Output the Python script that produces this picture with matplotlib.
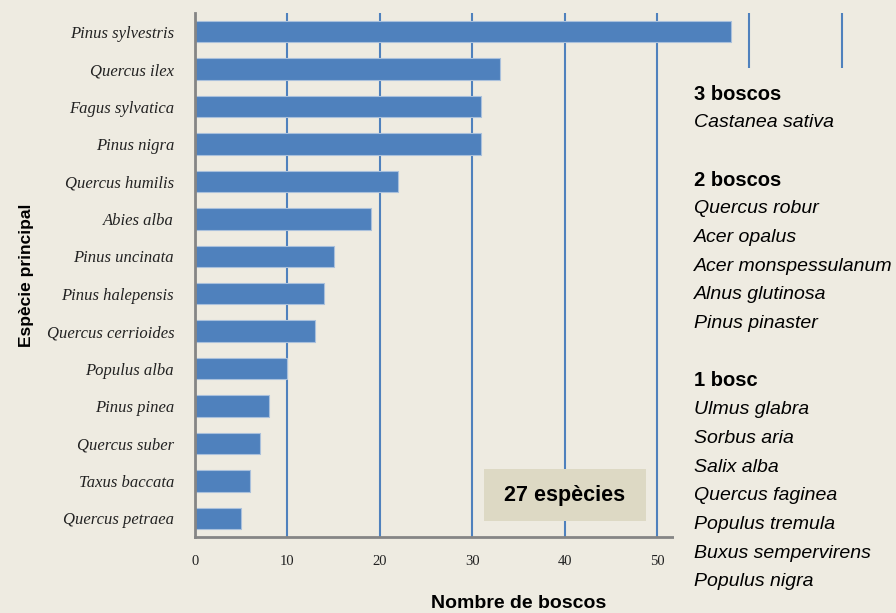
import matplotlib
matplotlib.use('Agg')

import matplotlib.pyplot as plt
from matplotlib.patches import Rectangle

# Species with the most forests, top to bottom
species = ["Pinus sylvestris", "Quercus ilex", "Fagus sylvatica", "Pinus nigra",
           "Quercus humilis", "Abies alba", "Pinus uncinata", "Pinus halepensis",
           "Quercus cerrioides", "Populus alba", "Pinus pinea", "Quercus suber",
           "Taxus baccata", "Quercus petraea"]
forests = [58, 33, 31, 31, 22, 19, 15, 14, 13, 10, 8, 7, 6, 5]

# Species with only a few forests, grouped by count
groups = [
    ("3 boscos", ["Castanea sativa"]),
    ("2 boscos", ["Quercus robur", "Acer opalus", "Acer monspessulanum",
                  "Alnus glutinosa", "Pinus pinaster"]),
    ("1 bosc", ["Ulmus glabra", "Sorbus aria", "Salix alba", "Quercus faginea",
                "Populus tremula", "Buxus sempervirens", "Populus nigra"]),
]
x_ticks = [0, 10, 20, 30, 40, 50, 60, 70]
x_labels = ["0", "10", "20", "30", "40", "50", "", ""]

bg = "#eeebe1"
blue = "#4f81bd"

W, H = 896, 613
fig = plt.figure(figsize=(W / 100, H / 100), dpi=100, facecolor=bg)

# axes placed in pixel units
x0, x1 = 195, 195 + 72 * 9.24
y_top, y_bot = 13, 537
ax = fig.add_axes([x0 / W, 1 - y_bot / H, (x1 - x0) / W, (y_bot - y_top) / H])
ax.set_facecolor(bg)

pos = list(range(len(species)))
ax.barh(pos, forests, height=0.57, color=blue, edgecolor="#a9c0dc",
        linewidth=0.8, zorder=3)
ax.set_ylim(len(species) - 0.5, -0.5)
ax.set_xlim(0, 72)

ax.set_yticks(pos)
ax.set_yticklabels(species, family="Liberation Serif", style="italic",
                   fontsize=12, color="#222222")
ax.set_xticks(x_ticks)
ax.set_xticklabels(x_labels, family="Liberation Serif",
                   fontsize=10.5, color="#222222")
ax.tick_params(axis="both", length=0)
ax.tick_params(axis="y", pad=15)
ax.tick_params(axis="x", pad=13)

ax.grid(axis="x", color=blue, linewidth=1.5, zorder=1)
ax.set_axisbelow(True)
for side in ("top", "right"):
    ax.spines[side].set_visible(False)
for side in ("left", "bottom"):
    ax.spines[side].set_color("#858585")
    ax.spines[side].set_linewidth(2)
    ax.spines[side].set_zorder(4)

fig.text(519 / W, 1 - 603 / H, "Nombre de boscos", family="Liberation Sans",
         fontweight="bold", fontsize=14, ha="center", va="center")
fig.text(27 / W, 1 - 275 / H, "Espècie principal", family="Liberation Sans",
         fontweight="bold", fontsize=12.5, rotation=90, ha="center", va="center")

# panel for the rare species, drawn over the right part of the plot
fig.patches.append(Rectangle((674 / W, 0), 1, 1 - 68 / H, transform=fig.transFigure,
                             facecolor=bg, edgecolor="none", zorder=5))

line_y = 94
step = 28.7
for i, (title, names) in enumerate(groups):
    fig.text(694 / W, 1 - line_y / H, title, family="Liberation Sans",
             fontweight="bold", fontsize=14.5, va="center", zorder=6)
    line_y += step
    for name in names:
        fig.text(694 / W, 1 - line_y / H, name, family="Liberation Sans",
                 style="italic", fontsize=14, va="center", zorder=6)
        line_y += step
    line_y += step

# total count box
fig.patches.append(Rectangle((484 / W, 1 - 521 / H), 162 / W, 52 / H,
                             transform=fig.transFigure, facecolor="#ddd9c4",
                             edgecolor="none", zorder=5))
fig.text(565 / W, 1 - 495 / H, "27 espècies", family="Liberation Sans",
         fontweight="bold", fontsize=15.5, ha="center", va="center", zorder=6)

fig.savefig("out.png", dpi=100, facecolor=bg)
